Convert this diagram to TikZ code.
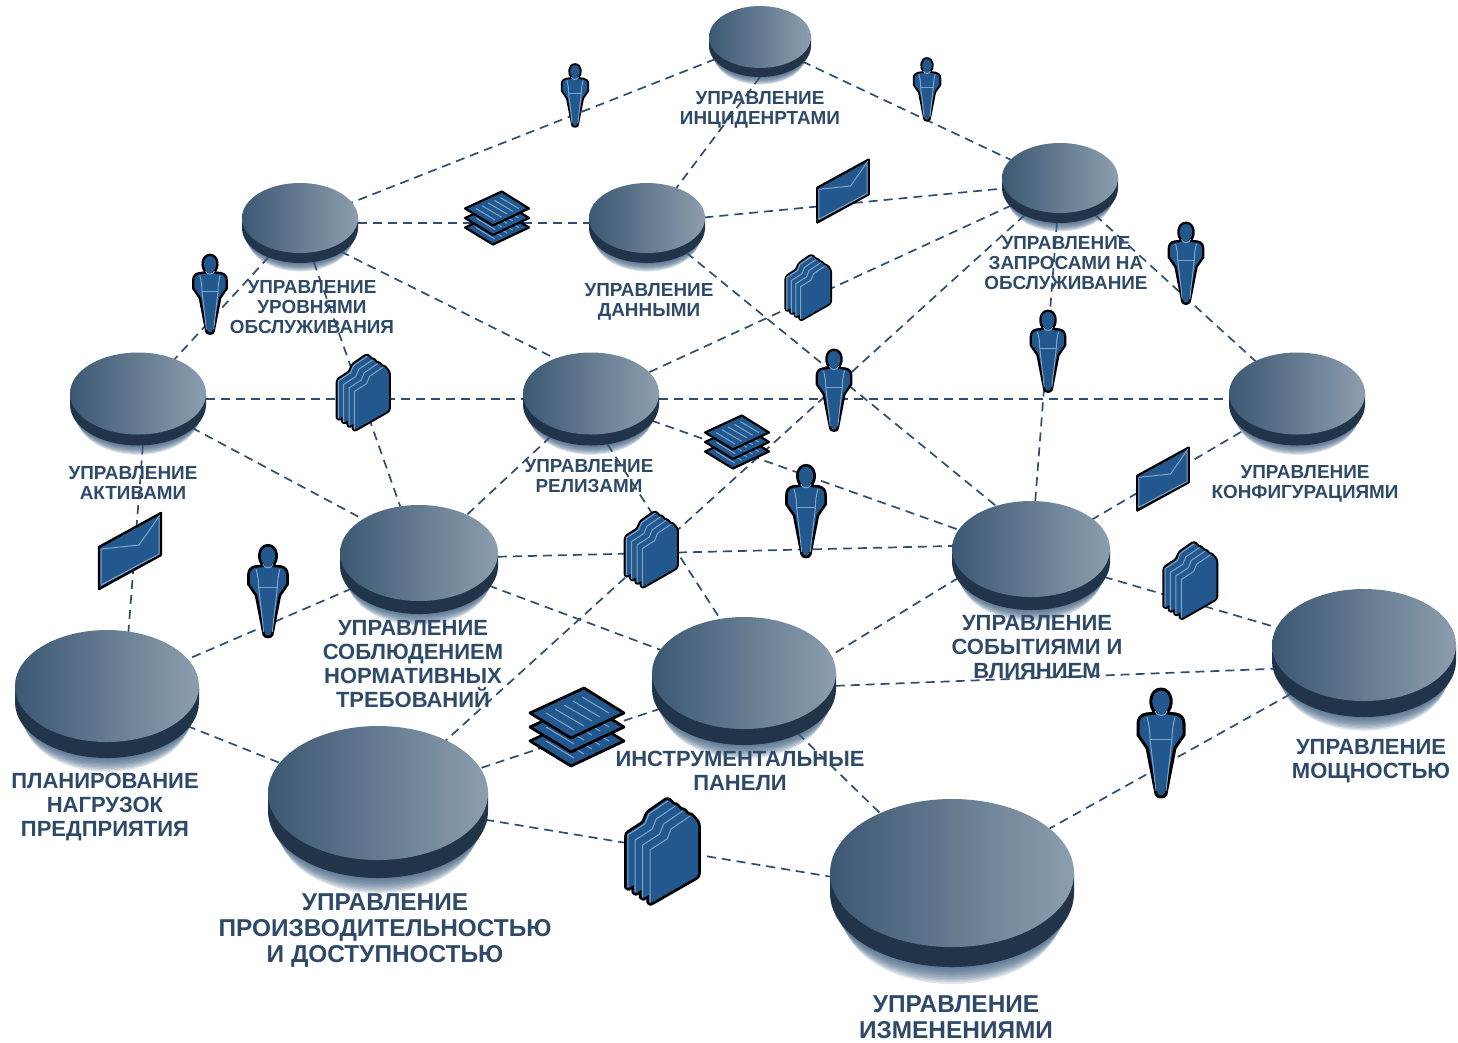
\documentclass[tikz,border=0pt]{standalone}
\usepackage{fontspec}
\setmainfont{Liberation Sans}
\usetikzlibrary{shapes.geometric,backgrounds}
\definecolor{discleft}{HTML}{3C5873}
\definecolor{discright}{HTML}{8C9EAE}
\definecolor{discside}{HTML}{22344A}
\definecolor{discglow}{HTML}{3F5F80}
\definecolor{linkblue}{HTML}{2F4E6E}
\definecolor{iconblue}{HTML}{22588E}
\definecolor{iconlight}{HTML}{7FA5CC}
\definecolor{labelblue}{HTML}{2F4A68}
\tikzset{
  link/.style={linkblue, line width=1.7pt, dash pattern=on 9pt off 6pt},
  anchorshape/.style={ellipse, inner sep=0pt, outer sep=0pt},
  iconline/.style={draw=black, fill=iconblue, line join=round},
  iconinner/.style={iconlight, line width=1pt},
  sheet/.style={insert path={[rounded corners=2.5pt] (-13,52) -- (-13,-3) -- (4,-14) -- (8,-24) -- (28,-38)
    -- (36,-29) -- (36,24) -- cycle}},
  biglabel/.style={labelblue, font=\bfseries\fontsize{24.4}{26}\selectfont, align=center},
  midlabel/.style={labelblue, font=\bfseries\fontsize{22}{23.7}\selectfont, align=center},
  smalllabel/.style={labelblue, font=\bfseries\fontsize{18.9}{20}\selectfont, align=center},
  pics/person/.style={code={
    \path[iconline] (-5,-31) .. controls (-13,-36) and (-12,-55) .. (0,-55)
      .. controls (12,-55) and (13,-36) .. (5,-31) -- (15,-30)
      .. controls (20,-29) and (23,-26) .. (23,-20) -- (23,-9) -- (14,4)
      -- (5,50) .. controls (4,54) and (-4,54) .. (-5,50) -- (-14,4) -- (-23,-9)
      -- (-23,-20) .. controls (-23,-26) and (-20,-29) .. (-15,-30) -- cycle;
    \draw[iconinner] (-6,-33) .. controls (-5,-27) and (5,-27) .. (6,-33);
    \draw[iconinner] (-11,-5) -- (11,-5);
    \draw[iconinner] (-14,-27) .. controls (-12,-20) and (-11,-12) .. (-11,-5) -- (-5,47);
    \draw[iconinner] (14,-27) .. controls (12,-20) and (11,-12) .. (11,-5) -- (5,47);
  }},
  pics/envelope/.style={code={
    \path[iconline] (-31,-4) -- (31,-38) -- (31,4) -- (-31,38) -- cycle;
    \draw[iconinner] (-29,-2) -- (9,-6) -- (30,-36);
    \draw[iconinner] (-29,-2) -- (-29,34) -- (29,3) -- (29,-33);
  }},
  pics/stack/.style={code={
    \foreach \h in {28,14,0} {
      \begin{scope}[yshift=-\h pt]
        \path[iconline] (7,-39) -- (47,-14) -- (-6,11) -- (-47,-14) -- cycle;
        \draw[iconinner] (5,-30) -- (32,-14);
        \draw[iconinner] (-4,-26) -- (23,-10);
        \draw[iconinner] (-13,-22) -- (15,-6);
        \draw[iconinner] (-22,-18) -- (7,-1);
        \draw[iconinner] (-31,-14) -- (-3,3);
      \end{scope}
    }
  }},
  pics/folder/.style={code={
    \foreach \i in {3,2,1,0}
      \draw[black, line join=round, shift={(-7.4*\i,-5*\i)}, sheet];
    \foreach \i in {3,2,1,0} {
      \begin{scope}[shift={(-7.4*\i,-5*\i)}]
        \fill[iconblue, sheet];
        \draw[iconinner] (-12,50) -- (-12,-2) -- (5,-13) -- (9,-23) -- (28,-36);
      \end{scope}
    }
  }},
}
% name, x, y, x radius, y radius, side
\newcommand{\disc}[6]{
  \foreach \i in {10,...,1}
    \fill[discglow, opacity=.15] (#2,#3+#6+\i*#6*.1) ellipse [x radius=#4*(1-\i*.01), y radius=#5*(1-\i*.004)];
  \fill[discside] (#2-#4,#3) -- (#2-#4,#3+#6) arc [start angle=180, end angle=360, x radius=#4, y radius=-#5]
    -- (#2+#4,#3) -- cycle;
  \shade[left color=discleft, right color=discright] (#2,#3) ellipse [x radius=#4, y radius=#5];
  \node[anchorshape, minimum width=#4*2pt, minimum height=#5*2pt+#6*1pt] (#1) at (#2,#3+#6/2) {};
}
\begin{document}
\begin{tikzpicture}[x=1pt,y=-1pt]
\useasboundingbox (0,0) rectangle (1458,1042);
\disc{incidents}{760}{37}{51}{31}{9}
\disc{levels}{300}{218}{58}{35}{10}
\disc{datamgmt}{647}{218}{58}{35}{10}
\disc{requests}{1060}{178}{58}{35}{10}
\disc{assets}{138}{393.5}{68}{41}{11}
\disc{releases}{591}{393.5}{68}{41}{11}
\disc{config}{1297}{393.5}{68}{41}{11}
\disc{compliance}{419}{553}{79}{48}{13}
\disc{events}{1031}{549}{79}{48}{13}
\disc{dashboards}{744}{673}{92}{56}{16}
\disc{capacity}{1364}{645}{92}{56}{16}
\disc{planning}{107}{686}{92}{56}{16}
\disc{performance}{378}{793}{110}{67}{18}
\disc{changes}{952}{873}{122}{74}{20}

\begin{scope}[on background layer]
\draw[link] (incidents) -- (levels);
\draw[link] (incidents) -- (requests);
\draw[link] (incidents.south) -- (datamgmt.50);
\draw[link] (levels) -- (datamgmt);
\draw[link] (datamgmt) -- (requests);
\draw[link] (levels) -- (assets);
\draw[link] (levels) -- (compliance);
\draw[link] (levels.-35) -- (releases.131);
\draw[link] (datamgmt.-37) -- (events.125);
\draw[link] (requests) -- (releases);
\draw[link] (requests) -- (performance);
\draw[link] (requests) -- (events);
\draw[link] (requests) -- (config);
\draw[link] (assets) -- (releases);
\draw[link] (releases) -- (config);
\draw[link] (assets) -- (compliance.144);
\draw[link] (assets.-84) -- (planning.71);
\draw[link] (releases) -- (compliance);
\draw[link] (releases) -- (events);
\draw[link] (releases.-70) -- (dashboards.111);
\draw[link] (compliance.2) -- (events.173);
\draw[link] (compliance) -- (planning);
\draw[link] (compliance) -- (dashboards);
\draw[link] (events.197) -- (dashboards.16);
\draw[link] (events) -- (capacity);
\draw[link] (events) -- (config);
\draw[link] (dashboards.-3) -- (capacity.190);
\draw[link] (dashboards) -- (performance);
\draw[link] (dashboards) -- (changes);
\draw[link] (planning) -- (performance);
\draw[link] (performance) -- (changes.177);
\draw[link] (changes) -- (capacity);
\end{scope}

\node[smalllabel] (incidentstext) at (760,110) {УПРАВЛЕНИЕ\\ИНЦИДЕНРТАМИ};
\node[smalllabel] (levelstext) at (312,307) {УПРАВЛЕНИЕ\\УРОВНЯМИ\\ОБСЛУЖИВАНИЯ};
\node[smalllabel] (datatext) at (649,302) {УПРАВЛЕНИЕ\\ДАННЫМИ};
\node[smalllabel] (requeststext) at (1066,263) {УПРАВЛЕНИЕ\\ЗАПРОСАМИ НА\\ОБСЛУЖИВАНИЕ};
\node[smalllabel] (assetstext) at (133,483) {УПРАВЛЕНИЕ\\АКТИВАМИ};
\node[smalllabel] (releasestext) at (589,476) {УПРАВЛЕНИЕ\\РЕЛИЗАМИ};
\node[smalllabel] (configtext) at (1305,484) {УПРАВЛЕНИЕ\\КОНФИГУРАЦИЯМИ};
\node[midlabel] (compliancetext) at (413,664) {УПРАВЛЕНИЕ\\СОБЛЮДЕНИЕМ\\НОРМАТИВНЫХ\\ТРЕБОВАНИЙ};
\node[midlabel] (eventstext) at (1037,647) {УПРАВЛЕНИЕ\\СОБЫТИЯМИ И\\ВЛИЯНИЕМ};
\node[midlabel] (dashboardstext) at (740,771) {ИНСТРУМЕНТАЛЬНЫЕ\\ПАНЕЛИ};
\node[midlabel] (planningtext) at (105,807) {ПЛАНИРОВАНИЕ\\НАГРУЗОК\\ПРЕДПРИЯТИЯ};
\node[midlabel] (capacitytext) at (1371,761) {УПРАВЛЕНИЕ\\МОЩНОСТЬЮ};
\node[biglabel] (performancetext) at (385,931) {УПРАВЛЕНИЕ\\ПРОИЗВОДИТЕЛЬНОСТЬЮ\\И ДОСТУПНОСТЬЮ};
\node[biglabel, inner sep=0pt] (changestext) at (956,1017.5) {УПРАВЛЕНИЕ\\ИЗМЕНЕНИЯМИ};

\pic[scale=.58, line width=1.8pt] (personA) at (575,96) {person};
\pic[scale=.58, line width=1.8pt] (personB) at (927,90) {person};
\pic[scale=.73, line width=2.3pt] (personC) at (210,295) {person};
\pic[scale=.75, line width=2.3pt] (personD) at (1186,264) {person};
\pic[scale=.75, line width=2.3pt] (personE) at (1048,352) {person};
\pic[scale=.75, line width=2.3pt] (personF) at (834,391) {person};
\pic[scale=.85, line width=2.6pt] (personG) at (806,512) {person};
\pic[scale=.85, line width=2.6pt] (personH) at (268,592) {person};
\pic[line width=3pt] (personI) at (1161,744) {person};

\pic[line width=2.4pt] (envelopeA) at (130,551) {envelope};
\pic[scale=.83, line width=2.2pt] (envelopeB) at (843,191) {envelope};
\pic[scale=.83, line width=2.2pt] (envelopeC) at (1163,479) {envelope};

\pic[line width=2.8pt] (stackA) at (577,727) {stack};
\pic[scale=.68, line width=2.2pt] (stackB) at (497,218) {stack};
\pic[scale=.68, line width=2.2pt] (stackC) at (737,442) {stack};

\pic[line width=5.5pt] (folderA) at (662,852) {folder};
\pic[scale=.62, line width=3.6pt] (folderB) at (808,288) {folder};
\pic[scale=.72, line width=4pt] (folderC) at (363,393) {folder};
\pic[scale=.72, line width=4pt] (folderD) at (651,550) {folder};
\pic[scale=.73, line width=4pt] (folderE) at (1190,581) {folder};
\end{tikzpicture}
\end{document}
